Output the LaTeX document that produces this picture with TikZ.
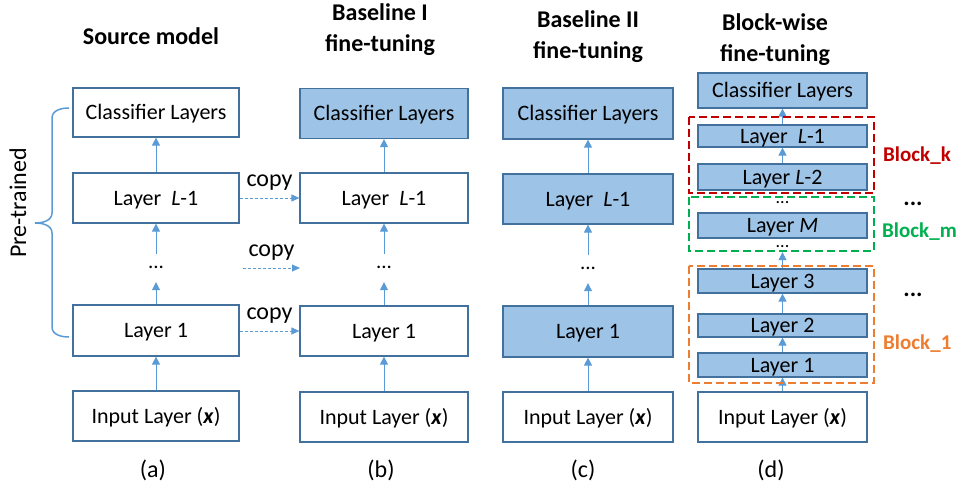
\documentclass[tikz,border=0pt]{standalone}
\usepackage{fontspec}
\setmainfont{Carlito}
\usetikzlibrary{arrows.meta}
\definecolor{boxblue}{HTML}{41719C}
\definecolor{fillblue}{HTML}{9DC3E6}
\definecolor{arrblue}{HTML}{5B9BD5}
\definecolor{bred}{HTML}{C00000}
\definecolor{bgreen}{HTML}{00B050}
\definecolor{borange}{HTML}{ED7D31}
\tikzset{
  lay/.style={draw=boxblue, line width=1.2pt, fill=white, inner sep=0pt,
    font=\fontsize{22}{26}\selectfont, text height=14.2pt, text depth=0pt},
  layf/.style={lay, fill=fillblue},
  arr/.style={arrblue, line width=1pt, -{Triangle[length=8pt,width=8pt]}},
  cpy/.style={arrblue, line width=0.9pt, dash pattern=on 3pt off 2pt, -{Triangle[length=8pt,width=7pt]}},
  cpylab/.style={font=\fontsize{24}{28}\selectfont, inner sep=0pt, text=black},
  ttl/.style={font=\fontsize{24}{31}\selectfont\bfseries, align=center, inner sep=0pt},
  sub/.style={font=\fontsize{24}{28}\selectfont, inner sep=0pt},
  dts/.style={font=\fontsize{21}{24}\selectfont, text height=0pt, text depth=0pt, inner sep=0pt},
  dtsd/.style={font=\fontsize{18}{20}\selectfont, text height=0pt, text depth=0pt, inner sep=0pt},
  blk/.style={line width=1.8pt, dash pattern=on 8pt off 4pt},
  blab/.style={font=\fontsize{21}{25}\selectfont\bfseries, anchor=west, inner sep=0pt, text height=13.6pt, text depth=0pt},
}
\begin{document}
\begin{tikzpicture}[x=1pt,y=-1pt]
\useasboundingbox (0,0) rectangle (959,487);
% titles
\node[ttl] (ta) at (151,36) {Source model};
\node[ttl] (tb) at (380,30) {Baseline I\\fine-tuning};
\node[ttl] (tc) at (588,36.5) {Baseline II\\fine-tuning};
\node[ttl] (td) at (775,39.5) {Block-wise\\fine-tuning};
% column a
\node[lay, minimum width=166pt, minimum height=49pt] (ca) at (156,112.5) {Classifier Layers};
\node[lay, minimum width=166pt, minimum height=50pt] (lla) at (156,198) {Layer\ \ \textit{L}-1};
\node[dts, minimum height=28pt] (da) at (156,268) {...};
\node[lay, minimum width=166pt, minimum height=51pt] (l1a) at (156,330.5) {Layer 1};
\node[lay, minimum width=166pt, minimum height=50pt] (ia) at (156,416) {Input Layer (\textbf{\textit{x}})};
\draw[arr] (lla) -- (ca);
\draw[arr] (da) -- (lla);
\draw[arr] (l1a) -- (da);
\draw[arr] (ia) -- (l1a);
% column b
\node[layf, minimum width=168pt, minimum height=50pt] (cb) at (384,113.5) {Classifier Layers};
\node[lay, minimum width=168pt, minimum height=50pt] (llb) at (384,198) {Layer\ \ \textit{L}-1};
\node[dts, minimum height=28pt] (db) at (384,268) {...};
\node[lay, minimum width=168pt, minimum height=50pt] (l1b) at (384,331) {Layer 1};
\node[lay, minimum width=168pt, minimum height=50pt] (ib) at (384,417) {Input Layer (\textbf{\textit{x}})};
\draw[arr] (llb) -- (cb);
\draw[arr] (db) -- (llb);
\draw[arr] (l1b) -- (db);
\draw[arr] (ib) -- (l1b);
% column c
\node[layf, minimum width=170pt, minimum height=51pt] (cc) at (588,113.5) {Classifier Layers};
\node[layf, minimum width=170pt, minimum height=50pt] (llc) at (588,199) {Layer\ \ \textit{L}-1};
\node[dts, minimum height=28pt] (dc) at (588,269) {...};
\node[layf, minimum width=170pt, minimum height=51pt] (l1c) at (588,331.5) {Layer 1};
\node[lay, minimum width=170pt, minimum height=50pt] (ic) at (588,417) {Input Layer (\textbf{\textit{x}})};
\draw[arr] (llc) -- (cc);
\draw[arr] (dc) -- (llc);
\draw[arr] (l1c) -- (dc);
\draw[arr] (ic) -- (l1c);
% column d
\node[layf, minimum width=169pt, minimum height=35pt] (cd) at (782.5,90.5) {Classifier Layers};
\node[layf, minimum width=169pt, minimum height=22pt] (lld) at (782.5,136) {Layer\ \ \textit{L}-1};
\node[layf, minimum width=169pt, minimum height=26pt] (l2d) at (782.5,177) {Layer \textit{L}-2};
\node[dtsd] (dd1) at (782.5,203) {...};
\node[layf, minimum width=169pt, minimum height=25pt] (lmd) at (782.5,225.5) {Layer \textit{M}};
\node[dtsd, minimum height=10pt] (dd2) at (782.5,247) {...};
\node[layf, minimum width=169pt, minimum height=24pt] (l3d) at (782.5,281) {Layer 3};
\node[layf, minimum width=169pt, minimum height=23pt] (l2dd) at (782.5,325.5) {Layer 2};
\node[layf, minimum width=169pt, minimum height=24pt] (l1d) at (782.5,365) {Layer 1};
\node[lay, minimum width=169pt, minimum height=50pt] (id) at (782.5,417) {Input Layer (\textbf{\textit{x}})};
\draw[arr] (lld) -- (cd);
\draw[arr] (l2d) -- (lld);
\draw[arr] (l3d) -- (dd2);
\draw[arr] (l2dd) -- (l3d);
\draw[arr] (l1d) -- (l2dd);
\draw[arr] (id) -- (l1d);
% block boxes
\draw[blk, bred] (689,117) rectangle (874,193);
\draw[blk, bgreen] (689,197) rectangle (874,251);
\draw[blk, borange] (689,266) rectangle (874,383);
\node[blab, text=bred] (bk) at (883,155) {Block\_k};
\node[blab, text=bgreen] (bm) at (882,231) {Block\_m};
\node[blab, text=borange] (b1) at (883,343) {Block\_1};
\node[dts, font=\fontsize{24}{28}\selectfont\bfseries] (rd1) at (913,205) {...};
\node[dts, font=\fontsize{24}{28}\selectfont\bfseries] (rd2) at (913,296) {...};
% copy arrows
\coordinate (cs) at (243,268);
\coordinate (ce) at (300,268);
\draw[cpy] (lla) -- (llb) node[midway, above=7pt, cpylab] (cp1) {copy};
\draw[cpy] (cs) -- (ce) node[midway, above=7pt, cpylab] (cp2) {copy};
\draw[cpy] (l1a.east |- 0,331) -- (l1b.west |- 0,331) node[midway, above=7pt, cpylab] (cp3) {copy};
% brace
\draw[arrblue, line width=1.5pt] (69,108) to[out=180,in=90] (52,118) -- (52,213)
  to[out=-90,in=0] (35,223) to[out=0,in=90] (52,233) -- (52,327) to[out=-90,in=180] (69,337);
\node[sub, rotate=90] (pt) at (18,203) {Pre-trained};
% sub labels
\node[sub] (sa) at (153,470) {(a)};
\node[sub] (sb) at (381,470) {(b)};
\node[sub] (sc) at (583,470) {(c)};
\node[sub] (sd) at (771,470) {(d)};
\end{tikzpicture}
\end{document}
